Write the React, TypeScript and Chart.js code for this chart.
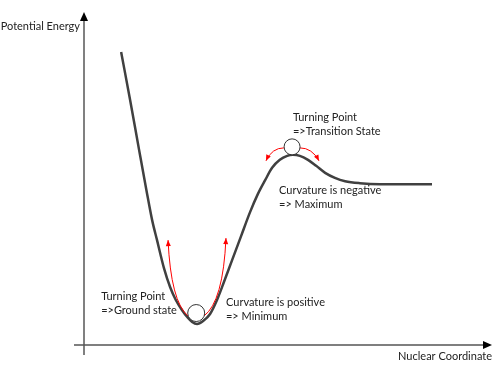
import React, { useEffect, useRef } from "react";
import { Chart, registerables } from "chart.js";

Chart.register(...registerables);

// Potential energy curve (nuclear coordinate, energy) in arbitrary units
const coordX = [0.91, 1.13, 1.35, 1.53, 1.67, 1.79, 1.96, 2.11, 2.25, 2.4, 2.55, 2.65, 2.77, 2.92, 3.09, 3.26, 3.43, 3.63, 3.85, 4.07, 4.26, 4.44, 4.61, 4.8, 4.98, 5.12, 5.29, 5.49, 5.69, 5.91, 6.15, 6.4, 6.76, 7.25, 7.87, 8.53];
const energyY = [8.8, 7.36, 5.86, 4.65, 3.75, 3.15, 2.31, 1.74, 1.35, 1.05, 0.81, 0.69, 0.63, 0.72, 0.93, 1.35, 1.89, 2.55, 3.27, 3.99, 4.53, 4.95, 5.32, 5.56, 5.68, 5.71, 5.68, 5.56, 5.38, 5.17, 5.02, 4.92, 4.86, 4.83, 4.83, 4.83];

const axisLabelX = "Nuclear Coordinate";
const axisLabelY = "Potential Energy";

// balls: [x, y]
const ballPositions = [
  [2.75, 0.96],
  [5.1, 5.95],
];

// red curved arrows: start, control, end (data units)
const redArrows = [
  [[2.55, 0.87], [2.13, 1.3], [2.06, 3.15]],
  [[2.94, 0.87], [3.41, 1.3], [3.48, 3.21]],
  [[4.9, 5.92], [4.61, 5.92], [4.46, 5.53]],
  [[5.29, 5.92], [5.59, 5.92], [5.76, 5.53]],
];

// annotation text blocks: x, y of first line, lines
const noteX = [0.42, 3.48, 5.12, 4.78];
const noteY = [1.47, 1.29, 6.82, 4.65];
const noteLines = [
  ["Turning Point", "=>Ground state"],
  ["Curvature is positive", "=> Minimum"],
  ["Turning Point", "=>Transition State"],
  ["Curvature is negative", "=> Maximum"],
];

const FONT = "11px Lato, 'Open Sans', sans-serif";
const TEXT_COLOR = "#222222";

function arrowHead(ctx: CanvasRenderingContext2D, fx: number, fy: number, tx: number, ty: number, len: number, w: number, color: string) {
  const a = Math.atan2(ty - fy, tx - fx);
  ctx.save();
  ctx.fillStyle = color;
  ctx.beginPath();
  ctx.moveTo(tx, ty);
  ctx.lineTo(tx - len * Math.cos(a) + w * Math.sin(a), ty - len * Math.sin(a) - w * Math.cos(a));
  ctx.lineTo(tx - len * Math.cos(a) - w * Math.sin(a), ty - len * Math.sin(a) + w * Math.cos(a));
  ctx.closePath();
  ctx.fill();
  ctx.restore();
}

const decorPlugin = {
  id: "decor",
  beforeDatasetsDraw(chart: any) {
    const { ctx, chartArea } = chart;
    const { left, right, top, bottom } = chartArea;
    ctx.save();
    // y axis
    ctx.strokeStyle = "#808080";
    ctx.lineWidth = 2;
    ctx.beginPath();
    ctx.moveTo(left, bottom + 10);
    ctx.lineTo(left, top + 6);
    ctx.stroke();
    arrowHead(ctx, left, top + 20, left, top, 9, 4, "#000");
    // x axis
    ctx.strokeStyle = "#555555";
    ctx.lineWidth = 1.5;
    ctx.beginPath();
    ctx.moveTo(left - 10, bottom);
    ctx.lineTo(right - 6, bottom);
    ctx.stroke();
    arrowHead(ctx, right - 20, bottom, right, bottom, 9, 4, "#000");
    // axis labels
    ctx.fillStyle = TEXT_COLOR;
    ctx.font = FONT;
    ctx.textBaseline = "middle";
    ctx.textAlign = "right";
    ctx.fillText(axisLabelY, left - 4, top + 14);
    ctx.fillText(axisLabelX, right, bottom + 11);
    ctx.restore();
  },
  afterDatasetsDraw(chart: any) {
    const { ctx } = chart;
    const xs = chart.scales.x;
    const ys = chart.scales.y;
    const px = (v: number) => xs.getPixelForValue(v);
    const py = (v: number) => ys.getPixelForValue(v);
    ctx.save();
    // red arrows
    redArrows.forEach((a) => {
      const [s, c, e] = a;
      ctx.strokeStyle = "#ff0000";
      ctx.lineWidth = 1;
      ctx.beginPath();
      ctx.moveTo(px(s[0]), py(s[1]));
      ctx.quadraticCurveTo(px(c[0]), py(c[1]), px(e[0]), py(e[1]));
      ctx.stroke();
      arrowHead(ctx, px(c[0]), py(c[1]), px(e[0]), py(e[1]), 6, 2.5, "#ff0000");
    });
    // balls
    ballPositions.forEach((b, i) => {
      ctx.beginPath();
      ctx.arc(px(b[0]), py(b[1]), i === 0 ? 8.5 : 8, 0, Math.PI * 2);
      ctx.fillStyle = "#ffffff";
      ctx.fill();
      ctx.strokeStyle = "#333333";
      ctx.lineWidth = 1;
      ctx.stroke();
    });
    // notes
    ctx.fillStyle = TEXT_COLOR;
    ctx.font = FONT;
    ctx.textAlign = "left";
    ctx.textBaseline = "middle";
    noteLines.forEach((lines, i) => {
      lines.forEach((t, j) => {
        ctx.fillText(t, px(noteX[i]), py(noteY[i]) + j * 14);
      });
    });
    ctx.restore();
  },
};

export default function App() {
  const ref = useRef<HTMLCanvasElement | null>(null);
  useEffect(() => {
    if (!ref.current) return;
    const chart = new Chart(ref.current, {
      type: "line",
      data: {
        datasets: [
          {
            data: coordX.map((x, i) => ({ x, y: energyY[i] })),
            borderColor: "#404040",
            borderWidth: 2.5,
            pointRadius: 0,
            cubicInterpolationMode: "monotone",
            fill: false,
          },
        ],
      },
      options: {
        animation: false,
        responsive: true,
        maintainAspectRatio: false,
        layout: { padding: { left: 84, right: 8, top: 12, bottom: 21 } },
        plugins: { legend: { display: false }, tooltip: { enabled: false } },
        scales: {
          x: { type: "linear", min: 0, max: 10, display: false },
          y: { type: "linear", min: 0, max: 10, display: false },
        },
      },
      plugins: [decorPlugin],
    });
    return () => chart.destroy();
  }, []);
  return (
    <div style={{ position: "fixed", left: 0, top: 0, width: 500, height: 366, background: "#fff" }}>
      <canvas ref={ref} />
    </div>
  );
}
